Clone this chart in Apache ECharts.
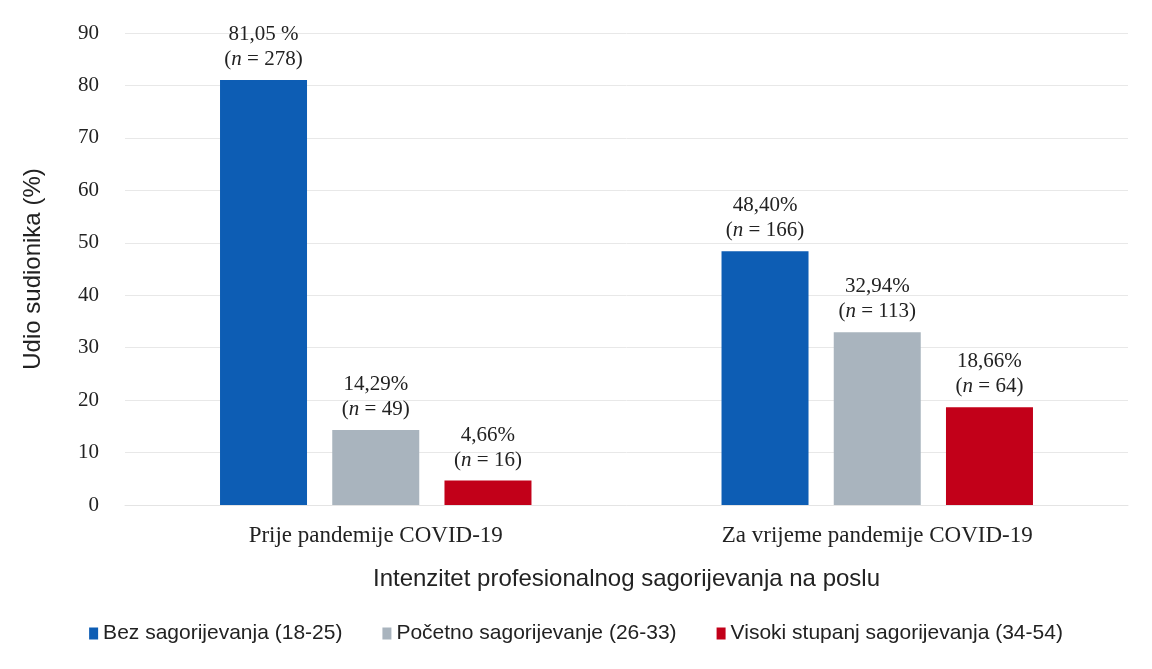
<!DOCTYPE html>
<html><head><meta charset="utf-8">
<script src="https://cdn.jsdelivr.net/npm/echarts@6/dist/echarts.min.js"></script>
<style>html,body{margin:0;padding:0;background:#fff}#c{width:1152px;height:669px}</style>
</head><body><div id="c"></div>
<script>
const categories = ['Prije pandemije COVID-19', 'Za vrijeme pandemije COVID-19'];
const seriesNames = ['Bez sagorijevanja (18-25)', 'Početno sagorijevanje (26-33)', 'Visoki stupanj sagorijevanja (34-54)'];
const bezValues = [81.05, 48.40];
const pocetnoValues = [14.29, 32.94];
const visokiValues = [4.66, 18.66];
const bezLabels = ['81,05 %', '48,40%'];
const pocetnoLabels = ['14,29%', '32,94%'];
const visokiLabels = ['4,66%', '18,66%'];
const bezN = [278, 166];
const pocetnoN = [49, 113];
const visokiN = [16, 64];
const colors = ['#0D5DB4', '#A9B4BE', '#C20019'];

const serif = '"Liberation Serif", "DejaVu Serif", serif';
const sans = '"Liberation Sans", Arial, sans-serif';

function mk(name, vals, labels, ns, color) {
  return {
    name: name, type: 'bar', data: vals,
    barWidth: 87, barGap: '29%',
    itemStyle: { color: color },
    label: {
      show: true, position: 'top', distance: 8,
      formatter: p => '{a|' + labels[p.dataIndex] + '}\n{a|(}{i|n}{a| = ' + ns[p.dataIndex] + ')}',
      rich: {
        a: { fontFamily: serif, fontSize: 21, color: '#222', lineHeight: 25 },
        i: { fontFamily: serif, fontSize: 21, fontStyle: 'italic', color: '#222', lineHeight: 25 }
      }
    }
  };
}

const chart = echarts.init(document.getElementById('c'));
chart.setOption({
  animation: false,
  color: colors,
  grid: { left: 125, right: 24, top: 33, bottom: 164, containLabel: false },
  legend: {
    bottom: 20, left: 'center', itemWidth: 9, itemHeight: 12, itemGap: 40,
    icon: 'rect',
    textStyle: { fontFamily: sans, fontSize: 21, color: '#222' },
    data: seriesNames
  },
  xAxis: {
    type: 'category', data: categories,
    axisLine: { show: true, lineStyle: { color: '#e4e4e4' } },
    axisTick: { show: false },
    axisLabel: { fontFamily: serif, fontSize: 23, color: '#222', margin: 19 },
    name: 'Intenzitet profesionalnog sagorijevanja na poslu',
    nameLocation: 'middle', nameGap: 62,
    nameTextStyle: { fontFamily: sans, fontSize: 24, color: '#222' }
  },
  yAxis: {
    type: 'value', min: 0, max: 90, interval: 10,
    axisLine: { show: false }, axisTick: { show: false },
    axisLabel: { fontFamily: serif, fontSize: 21, color: '#222', margin: 26 },
    splitLine: { lineStyle: { color: '#e8e8e8' } },
    name: 'Udio sudionika (%)', nameLocation: 'middle', nameGap: 80,
    nameTextStyle: { fontFamily: sans, fontSize: 24, color: '#222' }
  },
  series: [
    mk(seriesNames[0], bezValues, bezLabels, bezN, colors[0]),
    mk(seriesNames[1], pocetnoValues, pocetnoLabels, pocetnoN, colors[1]),
    mk(seriesNames[2], visokiValues, visokiLabels, visokiN, colors[2])
  ]
});
</script></body></html>
